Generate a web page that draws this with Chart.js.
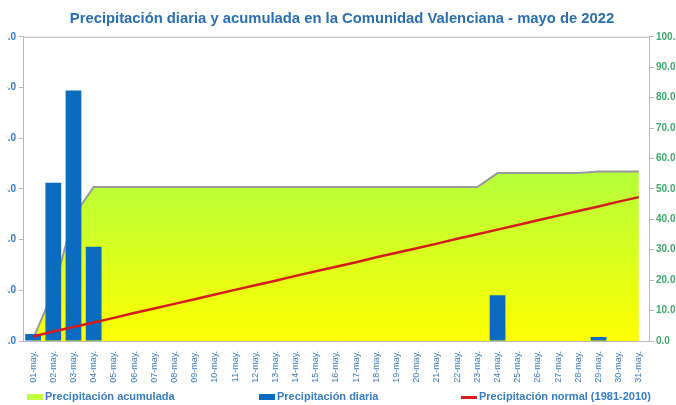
<!DOCTYPE html>
<html>
<head>
<meta charset="utf-8">
<script src="https://cdn.jsdelivr.net/npm/chart.js@4.4.1/dist/chart.umd.min.js"></script>
<style>
  html, body { margin: 0; padding: 0; background: #fff; }
  #wrap { position: relative; width: 676px; height: 405px; overflow: hidden; }
  #box { position: absolute; left: -27px; top: 0; width: 738px; height: 405px; }
  #tapa { position: absolute; left: 0; top: 25px; width: 7px; height: 325px; background: #fff; }
  .leg { position: absolute; top: 390px; font: bold 11px "Liberation Sans", Arial, sans-serif; color: #3a7cc0; white-space: nowrap; }
  .leg i { display: inline-block; width: 16px; vertical-align: middle; margin-right: 2px; }
</style>
</head>
<body>
<div id="wrap">
  <div id="box"><canvas id="grafico"></canvas></div>
  <div id="tapa"></div>
  <div class="leg" style="left:27px"><i style="height:6px;background:#c4ff3a"></i>Precipitación acumulada</div>
  <div class="leg" style="left:259px"><i style="height:6px;background:#0a6cc0"></i>Precipitación diaria</div>
  <div class="leg" style="left:461px"><i style="height:3px;background:#d81e1e"></i>Precipitación normal (1981-2010)</div>
</div>
<script>
const dias = ['01-may.', '02-may.', '03-may.', '04-may.', '05-may.', '06-may.', '07-may.', '08-may.',
  '09-may.', '10-may.', '11-may.', '12-may.', '13-may.', '14-may.', '15-may.', '16-may.',
  '17-may.', '18-may.', '19-may.', '20-may.', '21-may.', '22-may.', '23-may.', '24-may.',
  '25-may.', '26-may.', '27-may.', '28-may.', '29-may.', '30-may.', '31-may.'];

const diaria = [0.7, 15.6, 24.7, 9.3, 0, 0, 0, 0, 0, 0, 0, 0, 0, 0, 0, 0,
  0, 0, 0, 0, 0, 0, 0, 4.5, 0, 0, 0, 0, 0.4, 0, 0];

const acumulada = [0.7, 16.3, 41.0, 50.6, 50.6, 50.6, 50.6, 50.6, 50.6, 50.6, 50.6, 50.6, 50.6, 50.6, 50.6, 50.6,
  50.6, 50.6, 50.6, 50.6, 50.6, 50.6, 50.6, 55.2, 55.2, 55.2, 55.2, 55.2, 55.7, 55.7, 55.7];

const normal = [1.5, 3.1, 4.6, 6.1, 7.6, 9.2, 10.7, 12.2, 13.7, 15.3, 16.8, 18.3, 19.8, 21.4, 22.9, 24.4,
  25.9, 27.5, 29.0, 30.5, 32.0, 33.6, 35.1, 36.6, 38.1, 39.7, 41.2, 42.7, 44.2, 45.8, 47.3];

const ctx = document.getElementById('grafico').getContext('2d');

// marco gris arriba del área de trazado
const marco = {
  id: 'marco',
  afterDatasetsDraw(chart) {
    const a = chart.chartArea, c = chart.ctx;
    c.save();
    c.strokeStyle = '#b8b8b8';
    c.lineWidth = 1;
    c.beginPath();
    c.moveTo(a.left, a.top + 0.5);
    c.lineTo(a.right, a.top + 0.5);
    c.stroke();
    c.restore();
  }
};

function degradado(context) {
  const chart = context.chart;
  const a = chart.chartArea;
  if (!a) return '#e0ff20';
  const y2 = chart.scales.y2;
  const g = chart.ctx.createLinearGradient(0, a.bottom, 0, y2.getPixelForValue(56));
  g.addColorStop(0, '#ffff00');
  g.addColorStop(1, '#b4ff3c');
  return g;
}

new Chart(ctx, {
  data: {
    labels: dias,
    datasets: [
      {
        type: 'line',
        label: 'Precipitación normal (1981-2010)',
        data: normal,
        yAxisID: 'y2',
        borderColor: '#d41c1c',
        borderWidth: 2.5,
        pointRadius: 0,
        order: 1
      },
      {
        type: 'bar',
        label: 'Precipitación diaria',
        data: diaria,
        yAxisID: 'y',
        backgroundColor: '#0a6cc0',
        borderWidth: 0,
        barPercentage: 0.78,
        categoryPercentage: 1,
        order: 2
      },
      {
        type: 'line',
        label: 'Precipitación acumulada',
        data: acumulada,
        yAxisID: 'y2',
        borderColor: '#9a9a9a',
        borderWidth: 2,
        backgroundColor: degradado,
        fill: 'origin',
        pointRadius: 0,
        order: 3
      }
    ]
  },
  options: {
    responsive: true,
    maintainAspectRatio: false,
    animation: false,
    plugins: {
      legend: { display: false },
      tooltip: { enabled: false },
      title: {
        display: true,
        text: 'Precipitación diaria y acumulada en la Comunidad Valenciana - mayo de 2022',
        color: '#2a6fb0',
        font: { family: '"Liberation Sans", Arial, sans-serif', size: 14.8, weight: 'bold' },
        padding: { top: 10, bottom: 9 }
      }
    },
    scales: {
      x: {
        grid: { display: false },
        border: { display: true, color: '#b8b8b8' },
        ticks: {
          color: '#3a7cc0',
          minRotation: 90,
          maxRotation: 90,
          autoSkip: false,
          padding: 2,
          font: { family: '"Liberation Sans", Arial, sans-serif', size: 9 }
        },
        afterFit: s => { s.height = 64; }
      },
      y: {
        position: 'left',
        min: 0,
        max: 30,
        grid: { drawOnChartArea: false, color: '#b8b8b8', tickLength: 4 },
        border: { display: true, color: '#b8b8b8' },
        ticks: {
          stepSize: 5,
          color: '#3a7cc0',
          padding: 3,
          font: { family: '"Liberation Sans", Arial, sans-serif', size: 10, weight: 'bold' },
          callback: v => v.toFixed(1)
        },
        afterFit: s => { s.width = 50; }
      },
      y2: {
        position: 'right',
        min: 0,
        max: 100,
        grid: { drawOnChartArea: false, color: '#b8b8b8', tickLength: 5 },
        border: { display: true, color: '#b8b8b8' },
        ticks: {
          stepSize: 10,
          color: '#3aaa6a',
          padding: 2,
          font: { family: '"Liberation Sans", Arial, sans-serif', size: 10, weight: 'bold' },
          callback: v => v.toFixed(1)
        },
        afterFit: s => { s.width = 62; }
      }
    }
  },
  plugins: [marco]
});
</script>
</body>
</html>
